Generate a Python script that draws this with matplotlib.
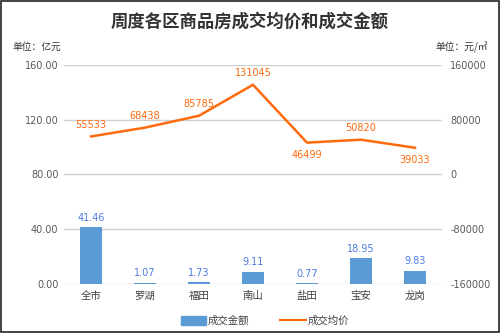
import matplotlib
matplotlib.use("Agg")
import matplotlib.pyplot as plt
from matplotlib.patches import Rectangle

plt.rcParams['font.family'] = ['Noto Sans CJK SC', 'DejaVu Sans']

districts = ["全市", "罗湖", "福田", "南山", "盐田", "宝安", "龙岗"]
amount = [41.46, 1.07, 1.73, 9.11, 0.77, 18.95, 9.83]          # 亿元
avg_price = [55533, 68438, 85785, 131045, 46499, 50820, 39033]  # 元/㎡
price_label_below = [False, False, False, False, True, False, True]

left_ticks = [0, 40, 80, 120, 160]
right_ticks = [-160000, -80000, 0, 80000, 160000]

bar_color = "#5B9BD5"
line_color = "#FF6A0D"
tick_color = "#595959"

fig = plt.figure(figsize=(5, 3.33), dpi=100)
ax = fig.add_axes([0.128, 0.147, 0.756, 0.658])
ax2 = ax.twinx()

x = list(range(len(districts)))
ax.bar(x, amount, width=0.39, color=bar_color, zorder=3)
for xi, v in zip(x, amount):
    ax.annotate(f"{v:.2f}", (xi, v), xytext=(0, 3), textcoords="offset points",
                ha="center", va="bottom", fontsize=7, color="#4A7BE0",
                family="DejaVu Sans")

ax.set_ylim(0, 160)
ax.set_yticks(left_ticks)
ax.set_yticklabels([f"{t:.2f}" for t in left_ticks])
ax.set_xlim(-0.5, len(districts) - 0.5)
ax.set_xticks(x)
ax.set_xticklabels(districts, fontsize=7.5, color="#404040")
ax.yaxis.grid(True, color="#D0D0D0", linewidth=1, zorder=0)
ax.set_axisbelow(True)

ax2.plot(x, avg_price, color=line_color, linewidth=1.8, zorder=4)
for xi, v, below in zip(x, avg_price, price_label_below):
    ax2.annotate(f"{v}", (xi, v), xytext=(0, -5 if below else 5),
                 textcoords="offset points", ha="center",
                 va="top" if below else "bottom", fontsize=7,
                 color=line_color, family="DejaVu Sans")
ax2.set_ylim(-160000, 160000)
ax2.set_yticks(right_ticks)
ax2.set_yticklabels([str(t) for t in right_ticks])

for a in (ax, ax2):
    for s in a.spines.values():
        s.set_visible(False)
    a.tick_params(length=0, labelsize=7, colors=tick_color)
ax.tick_params(axis="x", pad=5, colors="#404040", labelsize=7.5)
for lbl in ax.get_yticklabels() + ax2.get_yticklabels():
    lbl.set_family("DejaVu Sans")
ax.tick_params(axis="y", pad=4)
ax2.tick_params(axis="y", pad=6)

fig.text(0.5, 0.935, "周度各区商品房成交均价和成交金额", ha="center", va="center",
         fontsize=12.5, fontweight="bold", color="#333333")
fig.text(0.024, 0.858, "单位：亿元", ha="left", va="center", fontsize=7, color="#333333")
fig.text(0.975, 0.858, "单位：元/㎡", ha="right", va="center", fontsize=7, color="#333333")

# legend
fig.patches.append(Rectangle((0.362, 0.025), 0.05, 0.025, transform=fig.transFigure,
                             color=bar_color))
fig.text(0.416, 0.038, "成交金额", ha="left", va="center", fontsize=7.5, color="#404040")
fig.lines.append(plt.Line2D([0.56, 0.612], [0.038, 0.038], transform=fig.transFigure,
                            color=line_color, linewidth=1.5))
fig.text(0.616, 0.038, "成交均价", ha="left", va="center", fontsize=7.5, color="#404040")

# outer frame
fig.patches.append(Rectangle((0.002, 0.003), 0.995, 0.994, transform=fig.transFigure,
                             fill=False, edgecolor="#222222", linewidth=1.2))

fig.savefig("out.png", dpi=100)
